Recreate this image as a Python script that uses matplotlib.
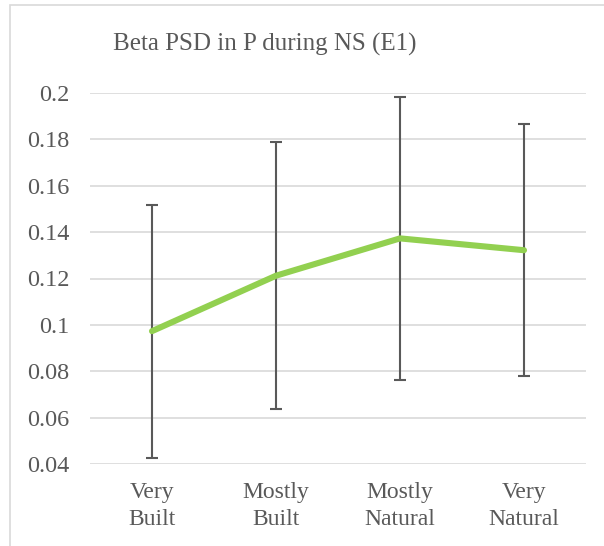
import matplotlib
matplotlib.use("Agg")
import matplotlib.pyplot as plt
from matplotlib.patches import Rectangle

categories = ["Very\nBuilt", "Mostly\nBuilt", "Mostly\nNatural", "Very\nNatural"]
values = [0.0973, 0.1212, 0.1373, 0.1322]
errors = [0.0545, 0.0576, 0.0611, 0.0543]
yticks = [0.04, 0.06, 0.08, 0.1, 0.12, 0.14, 0.16, 0.18, 0.2]
ytick_labels = ["0.04", "0.06", "0.08", "0.1", "0.12", "0.14", "0.16", "0.18", "0.2"]
title = "Beta PSD in P during NS (E1)"

plt.rcParams['font.family'] = ['Liberation Serif', 'DejaVu Serif']
text_color = "#595959"

W, H = 604, 546
fig = plt.figure(figsize=(W / 100, H / 100), dpi=100)
ax = fig.add_axes([90 / W, 82 / H, 496 / W, 371 / H])

x = list(range(len(categories)))
ax.errorbar(x, values, yerr=errors, fmt='none', ecolor="#595959",
            elinewidth=1.5, capsize=4.3, capthick=1.5, zorder=3)
ax.plot(x, values, color="#92D050", lw=4.4, solid_capstyle='round', zorder=4)

ax.set_xlim(-0.5, len(categories) - 0.5)
ax.set_ylim(0.04, 0.2)
ax.set_yticks(yticks)
ax.set_yticklabels(ytick_labels)
ax.set_xticks(x)
ax.set_xticklabels(categories, linespacing=1.4)
ax.tick_params(axis='y', length=0, pad=15, labelsize=17.5, labelcolor=text_color)
ax.tick_params(axis='x', length=0, pad=13, labelsize=17, labelcolor=text_color)
ax.grid(axis='y', color="#D9D9D9", lw=1.2, zorder=0)
for s in ax.spines.values():
    s.set_visible(False)

fig.text(265 / W, 1 - 44 / H, title, ha='center', va='center',
         fontsize=18, color=text_color)

fig.patches.append(Rectangle((10 / W, -0.1), 1.2, 1 - 5 / H + 0.1,
                             transform=fig.transFigure, fill=False,
                             edgecolor="#D9D9D9", lw=1.2))

fig.savefig("out.png", dpi=100)
